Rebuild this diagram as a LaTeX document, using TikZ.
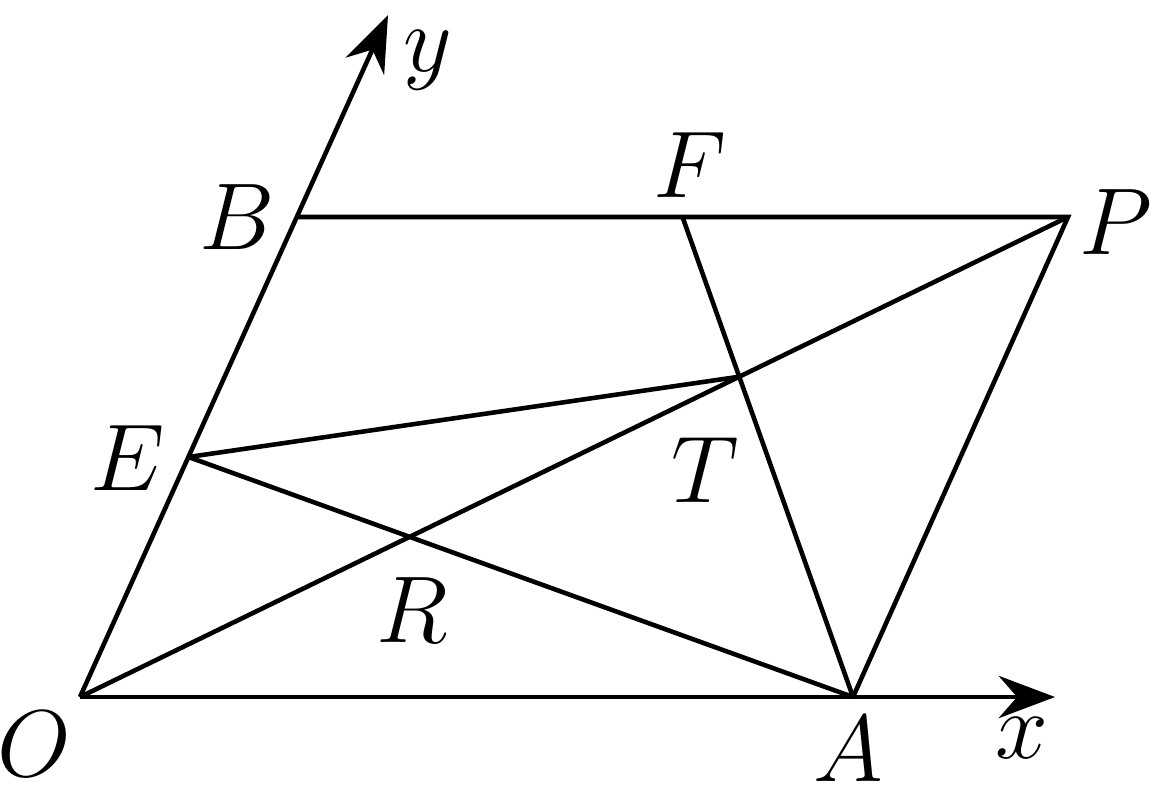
\RequirePackage{fix-cm}
\documentclass[tikz,border=0pt]{standalone}
\usepackage{tikz}
\usetikzlibrary{arrows.meta,calc}

\begin{document}
\begin{tikzpicture}[>={Stealth[length=16pt,width=12pt]}, line width=1.3pt,
	lbl/.style={font=\fontsize{27}{27}\selectfont, inner sep=0pt}]
	\useasboundingbox (0,0) rectangle (11.61,7.96);
	% Points {O, A, B, P, E, F, R, T}
	\coordinate (O) at (0.80,0.99);
	\coordinate (A) at (8.53,0.99);
	\coordinate (B) at (2.97,5.79);
	\coordinate (P) at (10.68,5.79);
	\coordinate (E) at ($(O)!0.5!(B)$);
	\coordinate (F) at ($(B)!0.5!(P)$);
	\coordinate (T) at (intersection of O--P and F--A);
	\coordinate (R) at (intersection of O--P and E--A);
	\coordinate (xend) at (10.55,0.99);
	\coordinate (yend) at (3.88,7.81);
	
	% Axes
	\draw [->] (O) -- (xend);
	\draw [->] (O) -- (yend);
	
	% Paths
	\draw (B) -- (P) -- (A);
	\draw (O) -- (P);
	\draw (E) -- (A);
	\draw (E) -- (T);
	\draw (F) -- (A);
	
	% Labels
	\node [lbl] (lO) at (0.34,0.52) {$O$};
	\node [lbl] (lA) at (8.48,0.47) {$A$};
	\node [lbl] (lx) at (10.22,0.58) {$x$};
	\node [lbl] (ly) at (4.28,7.36) {$y$};
	\node [lbl] (lB) at (2.37,5.79) {$B$};
	\node [lbl] (lF) at (6.90,6.31) {$F$};
	\node [lbl] (lP) at (11.16,5.74) {$P$};
	\node [lbl] (lE) at (1.28,3.38) {$E$};
	\node [lbl] (lT) at (7.05,3.26) {$T$};
	\node [lbl] (lR) at (4.12,1.86) {$R$};
\end{tikzpicture}
\end{document}
